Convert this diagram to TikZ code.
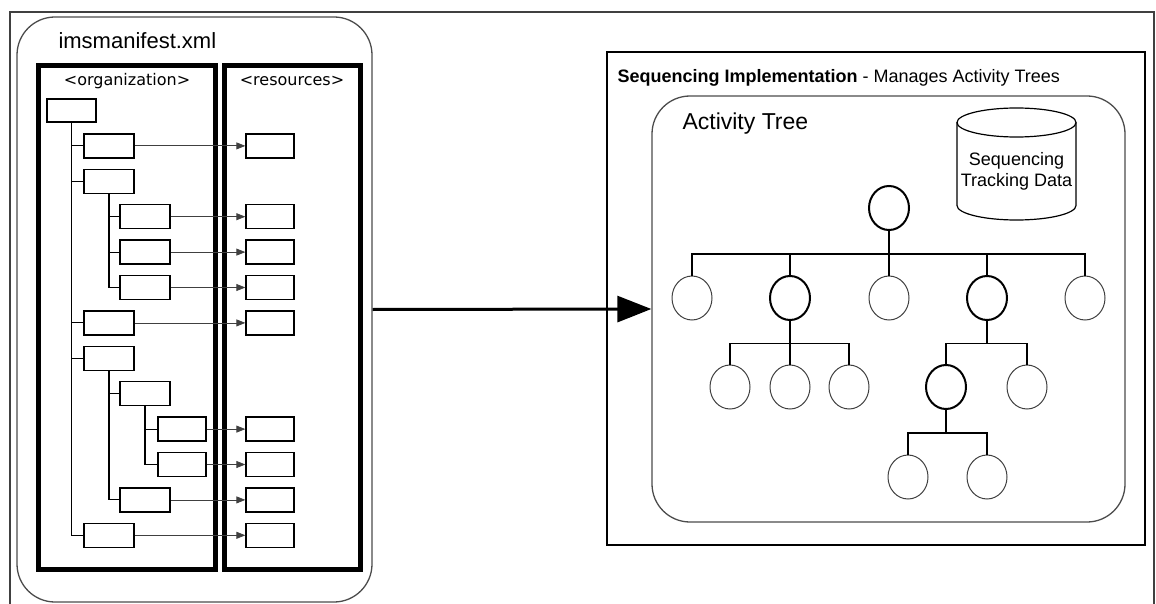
\documentclass[tikz,border=0pt]{standalone}
\usepackage{fontspec}
\setmainfont{Liberation Sans}
\newfontfamily\tagfont{DejaVu Sans}
\usetikzlibrary{arrows.meta,shapes.geometric}

\tikzset{
  item/.style={draw, line width=1.3pt, minimum width=50pt, minimum height=24pt, inner sep=0pt},
  res/.style={item, minimum width=48pt},
  frame/.style={draw, line width=5pt, inner sep=0pt},
  act/.style={draw=black!75, ellipse, line width=1pt, minimum width=40pt, minimum height=44pt, inner sep=0pt},
  boldact/.style={act, draw=black, line width=2pt},
  branch/.style={line width=1.1pt},
  link/.style={black!75, line width=0.8pt, -{Triangle[length=9pt,width=7pt]}},
}

\begin{document}
\begin{tikzpicture}[x=1pt,y=-1pt]
  \useasboundingbox (0,0) rectangle (1156,604);

  % outer frame, open at the bottom
  \draw[black!75, line width=1.5pt] (10,604) |- (1154,12) -- (1154,604);

  % manifest side
  \node[draw=black!70, line width=1.3pt, rounded corners=38pt, minimum width=355pt, minimum height=585pt] (manifest) at (194.5,309.5) {};
  \node[anchor=base west, font=\fontsize{22}{26}\selectfont] (mantitle) at (55,49) {imsmanifest.xml};

  \node[frame, minimum width=177pt, minimum height=503pt] (org) at (126.5,317.5) {};
  \node[frame, minimum width=136pt, minimum height=503pt] (resources) at (292,317.5) {};
  \node[anchor=base, font=\tagfont\fontsize{16}{19}\selectfont] (orgtitle) at (127,86) {<organization>};
  \node[anchor=base, font=\tagfont\fontsize{16}{19}\selectfont] (restitle) at (292,86) {<resources>};

  % organization tree
  \node[item, minimum width=49pt, minimum height=23pt] (root) at (71.5,110.5) {};
  \node[item] (o1) at (109,145.9) {};
  \node[item] (o2) at (109,181.3) {};
  \node[item] (o3) at (145,216.7) {};
  \node[item] (o4) at (145,252.1) {};
  \node[item] (o5) at (145,287.5) {};
  \node[item] (o6) at (109,322.9) {};
  \node[item] (o7) at (109,358.3) {};
  \node[item] (o8) at (145,393.7) {};
  \node[item, minimum width=48pt] (o9) at (182,429.1) {};
  \node[item, minimum width=48pt] (o10) at (182,464.5) {};
  \node[item] (o11) at (145,499.9) {};
  \node[item] (o12) at (109,535.3) {};

  \foreach \c in {o1,o2,o6,o7,o12}
    \draw[branch] (root.south) |- (\c.west);
  \foreach \c in {o3,o4,o5}
    \draw[branch] (o2.south) |- (\c.west);
  \foreach \c in {o8,o11}
    \draw[branch] (o7.south) |- (\c.west);
  \foreach \c in {o9,o10}
    \draw[branch] (o8.south) |- (\c.west);

  % resources
  \node[res] (r1) at (270,145.9) {};
  \node[res] (r2) at (270,216.7) {};
  \node[res] (r3) at (270,252.1) {};
  \node[res] (r4) at (270,287.5) {};
  \node[res] (r5) at (270,322.9) {};
  \node[res] (r6) at (270,429.1) {};
  \node[res] (r7) at (270,464.5) {};
  \node[res] (r8) at (270,499.9) {};
  \node[res] (r9) at (270,535.3) {};

  \foreach \a/\b in {o1/r1,o3/r2,o4/r3,o5/r4,o6/r5,o9/r6,o10/r7,o11/r8,o12/r9}
    \draw[link] (\a.east) -- (\b.west);

  % sequencing side
  \node[draw, line width=1.3pt, minimum width=538pt, minimum height=493pt, inner sep=0pt] (seqimpl) at (876,298.5) {};
  \node[anchor=base west, font=\fontsize{18}{21}\selectfont] (seqtitle) at (614,82.5) {\textbf{Sequencing Implementation} - Manages Activity Trees};

  \node[draw=black!70, line width=1.3pt, rounded corners=38pt, minimum width=473pt, minimum height=426pt, inner sep=0pt] (acttree) at (888.5,309) {};
  \node[anchor=base west, font=\fontsize{23}{27}\selectfont] (treetitle) at (679,129.5) {Activity Tree};

  % tracking data store
  \draw[line width=1.2pt, fill=white] (957,122.5) -- (957,205.5) arc (180:0:59.5 and 14.5) -- (1076,122.5);
  \draw[line width=1.2pt] (1016.5,122.5) ellipse (59.5 and 14.5);
  \node[anchor=base, align=center, font=\fontsize{18}{21}\selectfont] (trackdata) at (1016.5,187) {Sequencing\\Tracking Data};

  % activity tree
  \node[boldact] (top) at (889,208) {};
  \node[act] (a1) at (692,298) {};
  \node[boldact] (a2) at (790,298) {};
  \node[act] (a3) at (889,298) {};
  \node[boldact] (a4) at (987,298) {};
  \node[act] (a5) at (1085,298) {};
  \node[act] (b1) at (730,387) {};
  \node[act] (b2) at (790,387) {};
  \node[act] (b3) at (849,387) {};
  \node[boldact] (b4) at (946,387) {};
  \node[act] (b5) at (1027,387) {};
  \node[act] (c1) at (908,477) {};
  \node[act] (c2) at (987,477) {};

  \foreach \c in {a1,a2,a3,a4,a5}
    \draw[branch] (top.south) -- ++(0,23) -| (\c.north);
  \foreach \c in {b1,b2,b3}
    \draw[branch] (a2.south) -- ++(0,22.5) -| (\c.north);
  \foreach \c in {b4,b5}
    \draw[branch] (a4.south) -- ++(0,22.5) -| (\c.north);
  \foreach \c in {c1,c2}
    \draw[branch] (b4.south) -- ++(0,23) -| (\c.north);

  % hand-over arrow
  \draw[line width=3pt, -{Triangle[length=34pt,width=26pt]}] (manifest.east) -- (acttree.west);

\end{tikzpicture}
\end{document}
